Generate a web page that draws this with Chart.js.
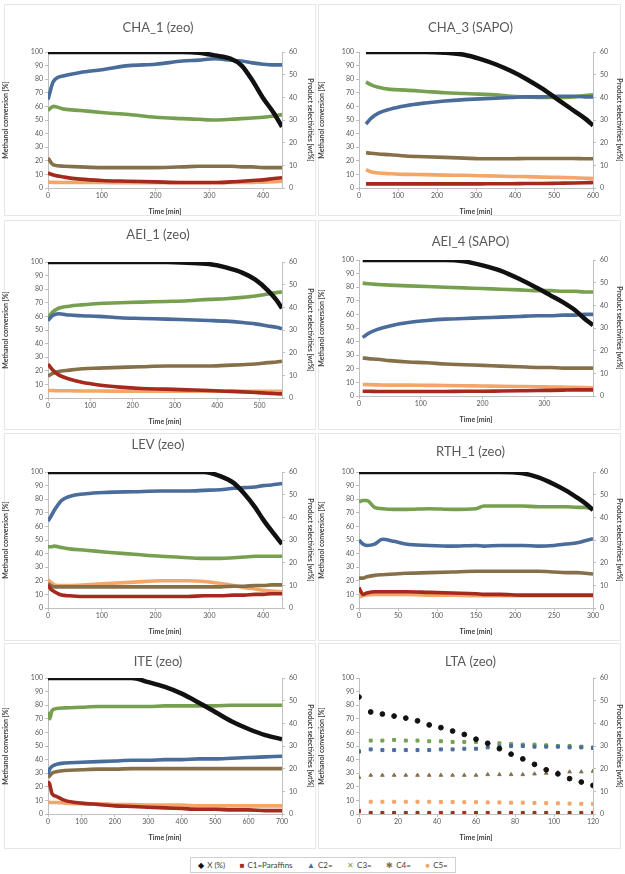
<!DOCTYPE html>
<html>
<head>
<meta charset="utf-8">
<script src="https://cdn.jsdelivr.net/npm/chart.js@4.4.1/dist/chart.umd.min.js"></script>
<style>
  body { margin: 0; background: #fff; width: 625px; height: 874px; position: relative; overflow: hidden; font-family: Lato, "Open Sans", sans-serif; }
  canvas { position: absolute; }
  .frame { position: absolute; border: 1px solid #e6e6e6; box-sizing: border-box; }
  #legend { position: absolute; left: 190px; top: 857px; width: 266px; height: 16px; border: 1px solid #d0d0d0; box-sizing: border-box;
            display: flex; justify-content: space-around; align-items: center; font-size: 8px; color: #404040; }
  #legend span b { display: inline-block; margin-right: 3px; font-weight: normal; }
</style>
</head>
<body>
<div id="legend"></div>
<script>
// series names and colours (legend order)
const seriesNames = ["X (%)", "C1=Paraffins", "C2=", "C3=", "C4=", "C5="];
const seriesColors = ["#111111", "#a52a1e", "#4a6c9b", "#76a050", "#86704a", "#f2a66a"];
const markerGlyphs = ["\u25C6", "\u25A0", "\u25B2", "\u2715", "\u2731", "\u25CF"];

// CHA_1 (zeo)
const cha1Time = [0, 10, 30, 60, 100, 150, 200, 250, 280, 310, 340, 360, 380, 400, 420, 435];
const cha1X  = [100, 100, 100, 100, 100, 100, 100, 100, 99.5, 97.5, 95, 90, 79, 66, 55, 45];
const cha1C1 = [6.6, 5.7, 4.8, 3.9, 3.3, 3, 2.7, 2.4, 2.4, 2.4, 2.7, 3, 3.3, 3.6, 4.2, 4.5];
const cha1C2 = [39, 47, 49.5, 51, 52.2, 54, 54.6, 56, 56.4, 57, 56.4, 56, 55.2, 54.6, 54.3, 54.3];
const cha1C3 = [34.2, 36, 34.8, 34.2, 33.3, 32.4, 31.2, 30.6, 30.3, 30, 30.3, 30.6, 30.9, 31.2, 31.8, 32.4];
const cha1C4 = [13.2, 10.2, 9.6, 9.3, 9, 9, 9, 9.3, 9.6, 9.6, 9.6, 9.3, 9.3, 9, 9, 9];
const cha1C5 = [2.6, 2.5, 2.4, 2.4, 2.4, 2.3, 2.3, 2.3, 2.3, 2.3, 2.4, 2.4, 2.5, 2.6, 2.8, 3];

// CHA_3 (SAPO)
const cha3Time = [18, 30, 50, 80, 120, 170, 220, 270, 310, 350, 390, 430, 470, 510, 550, 580, 600];
const cha3X  = [100, 100, 100, 100, 100, 100, 99.5, 98, 95, 91, 86, 80, 73, 65, 57, 51, 46];
const cha3C1 = [1.8, 1.8, 1.8, 1.8, 1.8, 1.8, 1.8, 1.8, 1.8, 1.9, 1.9, 2, 2, 2.1, 2.2, 2.3, 2.4];
const cha3C2 = [28.2, 30.6, 33, 34.8, 36.3, 37.5, 38.4, 39, 39.3, 39.6, 39.9, 40.2, 40.2, 40.5, 40.5, 40.2, 40.2];
const cha3C3 = [46.8, 45.6, 44.4, 43.5, 43.2, 42.6, 42, 41.7, 41.4, 41.1, 40.5, 40.2, 39.9, 39.9, 40.2, 40.8, 41.1];
const cha3C4 = [15.6, 15.3, 15, 14.7, 14.1, 13.8, 13.5, 13.2, 12.9, 12.9, 12.9, 13, 13, 13, 13, 12.9, 12.9];
const cha3C5 = [8.1, 7.2, 6.6, 6.3, 6, 5.9, 5.7, 5.6, 5.4, 5.3, 5.1, 5, 4.8, 4.7, 4.5, 4.3, 4.2];

// AEI_1 (zeo)
const aei1Time = [0, 10, 25, 50, 80, 120, 170, 220, 280, 330, 380, 420, 460, 490, 520, 540, 553];
const aei1X  = [100, 100, 100, 100, 100, 100, 100, 100, 100, 99.5, 98.5, 96, 92, 87, 79, 72, 66];
const aei1C1 = [15, 12.6, 10.2, 8.4, 6.9, 5.7, 4.8, 4.2, 3.9, 3.6, 3.3, 3, 2.7, 2.4, 2.1, 1.9, 1.8];
const aei1C2 = [34.2, 36.3, 37.2, 36.6, 36.3, 36, 35.4, 35.1, 34.8, 34.5, 34.2, 33.9, 33.3, 32.7, 31.8, 31.2, 30.6];
const aei1C3 = [35.4, 37.8, 39.6, 40.5, 41.1, 41.7, 42, 42.3, 42.6, 42.9, 43.5, 43.8, 44.4, 45, 45.9, 46.5, 46.8];
const aei1C4 = [9.6, 10.8, 11.7, 12.3, 12.9, 13.2, 13.5, 13.8, 14.1, 14.1, 14.1, 14.4, 14.7, 15, 15.6, 15.9, 16.2];
const aei1C5 = [3.3, 3.3, 3.2, 3.2, 3.1, 3.1, 3, 3, 3, 3, 3, 3, 3, 3, 3, 3, 3];

// AEI_4 (SAPO)
const aei4Time = [6, 15, 30, 50, 80, 110, 140, 170, 200, 230, 260, 290, 310, 330, 350, 365, 379];
const aei4X  = [100, 100, 100, 100, 100, 100, 100, 99, 96, 92, 86, 79, 74, 69, 63, 57, 52];
const aei4C1 = [2.1, 2.1, 2, 2, 2, 2, 2, 2.1, 2.1, 2.2, 2.3, 2.4, 2.5, 2.6, 2.7, 2.7, 2.7];
const aei4C2 = [25.8, 27.6, 29.4, 30.9, 32.4, 33.3, 33.9, 34.2, 34.5, 34.8, 35.1, 35.4, 35.4, 35.7, 35.7, 36, 36];
const aei4C3 = [49.8, 49.5, 49.2, 48.9, 48.6, 48.3, 48, 47.7, 47.4, 47.1, 46.8, 46.5, 46.5, 46.2, 46.2, 45.9, 45.9];
const aei4C4 = [16.8, 16.5, 16.2, 15.6, 15, 14.7, 14.1, 13.8, 13.5, 13.2, 12.9, 12.6, 12.6, 12.3, 12.3, 12.3, 12.3];
const aei4C5 = [5.1, 5, 4.9, 4.8, 4.8, 4.7, 4.6, 4.5, 4.4, 4.3, 4.2, 4.1, 4, 3.9, 3.8, 3.7, 3.6];

// LEV (zeo)
const levTime = [0, 5, 12, 25, 40, 70, 110, 160, 210, 260, 290, 320, 345, 365, 385, 400, 415, 435];
const levX  = [100, 100, 100, 100, 100, 100, 100, 100, 100, 100, 100, 97, 92, 84, 74, 65, 57, 47];
const levC1 = [10.2, 8.4, 7.2, 5.7, 5.4, 5.1, 5.1, 5.1, 5.1, 5.1, 5.4, 5.4, 5.7, 5.7, 6, 6, 6.3, 6.3];
const levC2 = [38.4, 40.2, 43.2, 47.4, 49.2, 50.4, 51, 51.3, 51.6, 51.6, 51.9, 52.2, 52.8, 53.1, 53.4, 54, 54.3, 54.9];
const levC3 = [27, 27, 27.3, 26.7, 26.1, 25.5, 24.6, 23.7, 22.8, 22.2, 21.9, 21.9, 22.2, 22.5, 22.8, 22.8, 22.8, 22.8];
const levC4 = [10.8, 9.9, 9.3, 9.3, 9.3, 9.3, 9.3, 9.3, 9.3, 9.3, 9.3, 9.3, 9.6, 9.6, 9.9, 9.9, 10.2, 10.2];
const levC5 = [12.6, 11.4, 10.2, 9.9, 9.9, 10.2, 10.8, 11.4, 12, 12, 11.7, 10.8, 9.9, 9, 8.4, 7.8, 7.5, 7.2];

// RTH_1 (zeo)
const rthTime = [0, 5, 10, 20, 30, 45, 60, 90, 120, 150, 160, 180, 210, 230, 250, 265, 280, 290, 300];
const rthX  = [100, 100, 100, 100, 100, 100, 100, 100, 100, 100, 100, 100, 99, 96, 91, 86.5, 81, 77, 72];
const rthC1 = [9, 6, 6.6, 7.2, 7.2, 7.2, 7.2, 6.9, 6.6, 6.3, 6, 6, 5.7, 5.7, 5.7, 5.7, 5.7, 5.7, 5.7];
const rthC2 = [30, 28.2, 27.6, 28.2, 30.3, 29.4, 28.2, 27.6, 27.3, 27.6, 27.3, 27.6, 27.6, 27.3, 27.6, 28.2, 28.8, 29.7, 30.6];
const rthC3 = [46.8, 47.4, 47.4, 44.4, 43.8, 43.5, 43.5, 43.8, 43.5, 43.8, 45, 45, 45, 44.7, 44.7, 44.7, 44.4, 44.4, 43.8];
const rthC4 = [13.2, 13.2, 13.8, 14.4, 14.7, 15, 15.3, 15.6, 15.9, 16.2, 16.2, 16.2, 16.2, 16.2, 15.9, 15.6, 15.6, 15.3, 15];
const rthC5 = [4.8, 5.4, 5.7, 6, 6, 6, 6, 5.7, 5.7, 5.4, 5.4, 5.4, 5.4, 5.4, 5.4, 5.4, 5.4, 5.4, 5.4];

// ITE (zeo)
const iteTime = [0, 5, 12, 25, 50, 100, 150, 200, 250, 300, 350, 400, 450, 500, 550, 600, 650, 700];
const iteX  = [100, 100, 100, 100, 100, 100, 100, 100, 100, 97, 93.5, 88.5, 82, 75, 68, 62.5, 58, 55];
const iteC1 = [14.4, 13.2, 9, 7.8, 6, 4.8, 4.2, 3.6, 3.3, 3, 2.7, 2.4, 2.1, 2.1, 1.8, 1.8, 1.5, 1.5];
const iteC2 = [17.4, 19.8, 21, 21.9, 22.5, 22.8, 23.1, 23.4, 23.7, 23.7, 24, 24, 24.3, 24.3, 24.6, 24.9, 25.2, 25.5];
const iteC3 = [45, 42, 45.6, 46.5, 46.8, 47.1, 47.4, 47.4, 47.4, 47.4, 47.7, 47.7, 47.7, 47.7, 48, 48, 48, 48];
const iteC4 = [16.2, 16.8, 18, 18.6, 19.2, 19.5, 19.8, 19.8, 20, 20, 20, 20, 20, 20, 20, 20, 20, 20];
const iteC5 = [5.4, 5.1, 5.1, 5.1, 4.8, 4.5, 4.5, 4.2, 4.2, 3.9, 3.9, 3.9, 3.6, 3.6, 3.6, 3.6, 3.6, 3.6];

// LTA (zeo)
const ltaTime = [0, 6, 12, 18, 24, 30, 36, 42, 48, 54, 60, 66, 72, 78, 84, 90, 96, 102, 108, 114, 120];
const ltaX  = [86, 75, 73.5, 72, 70.5, 68.5, 65.5, 63.5, 61, 58.5, 55, 52, 48, 44, 40.5, 36.5, 32.5, 29.5, 26, 23.5, 21];
const ltaC1 = [1.2, 0.5, 0.5, 0.5, 0.5, 0.5, 0.5, 0.5, 0.5, 0.5, 0.5, 0.5, 0.5, 0.5, 0.5, 0.5, 0.5, 0.5, 0.5, 0.5, 0.5];
const ltaC2 = [27.6, 28.5, 28.2, 28.2, 28.2, 28.2, 28.2, 28.5, 28.5, 28.8, 28.8, 29.4, 29.7, 30, 30, 29.7, 29.7, 29.7, 29.4, 29.4, 29.1];
const ltaC3 = [27.6, 32.4, 32.4, 32.7, 32.4, 32.4, 32.1, 32.1, 31.8, 31.8, 31.8, 31.2, 31.2, 30.9, 30.6, 30.6, 30.3, 30, 30, 29.7, 29.4];
const ltaC4 = [16.2, 17.1, 17.1, 17.1, 17.1, 17.1, 17.1, 17.1, 17.1, 17.1, 17.1, 17.4, 17.4, 17.4, 17.4, 17.7, 18, 18.3, 18.6, 18.6, 18.9];
const ltaC5 = [1.5, 5.4, 5.4, 5.4, 5.4, 5.4, 5.4, 5.3, 5.3, 5.2, 5.2, 5.1, 5.1, 5, 5, 4.9, 4.8, 4.7, 4.6, 4.5, 4.5];

// panels: data + axis range
const panels = [
  { title: "CHA_1 (zeo)",  time: cha1Time, vals: [cha1X, cha1C1, cha1C2, cha1C3, cha1C4, cha1C5], xMax: 435, xStep: 100 },
  { title: "CHA_3 (SAPO)", time: cha3Time, vals: [cha3X, cha3C1, cha3C2, cha3C3, cha3C4, cha3C5], xMax: 600, xStep: 100 },
  { title: "AEI_1 (zeo)",  time: aei1Time, vals: [aei1X, aei1C1, aei1C2, aei1C3, aei1C4, aei1C5], xMax: 553, xStep: 100 },
  { title: "AEI_4 (SAPO)", time: aei4Time, vals: [aei4X, aei4C1, aei4C2, aei4C3, aei4C4, aei4C5], xMax: 379, xStep: 100 },
  { title: "LEV (zeo)",    time: levTime,  vals: [levX, levC1, levC2, levC3, levC4, levC5], xMax: 435, xStep: 100 },
  { title: "RTH_1 (zeo)",  time: rthTime,  vals: [rthX, rthC1, rthC2, rthC3, rthC4, rthC5], xMax: 300, xStep: 50 },
  { title: "ITE (zeo)",    time: iteTime,  vals: [iteX, iteC1, iteC2, iteC3, iteC4, iteC5], xMax: 700, xStep: 100 },
  { title: "LTA (zeo)",    time: ltaTime,  vals: [ltaX, ltaC1, ltaC2, ltaC3, ltaC4, ltaC5], xMax: 120, xStep: 20, scatter: true },
];

// layout: [canvas left, plot top, title gap above plot]
const layout = [
  [0, 52, 24], [316, 52, 24],
  [0, 262, 27], [316, 260, 18],
  [0, 472, 27], [316, 472, 20],
  [0, 678, 16], [316, 678, 16],
];
const frames = [
  [4, 4, 312, 212], [318, 4, 303, 212],
  [4, 220, 312, 210], [318, 220, 303, 210],
  [4, 433, 312, 208], [318, 433, 303, 208],
  [4, 643, 312, 206], [318, 643, 303, 206],
];

const TICK = "#595959", AXIS = "#bfbfbf";
const tiny = { size: 7, family: "Lato" };

frames.forEach(([x, y, w, h]) => {
  const d = document.createElement("div");
  d.className = "frame";
  Object.assign(d.style, { left: x + "px", top: y + "px", width: w + "px", height: h + "px" });
  document.body.appendChild(d);
});

panels.forEach((p, idx) => {
  const [cx, plotTop, gap] = layout[idx];
  const leftCol = cx === 0;
  const width = leftCol ? 316 : 309;
  const leftW = leftCol ? 48 : 43;
  const rightW = leftCol ? 34 : 32;
  const head = 48;
  const plotH = 136;
  const canvas = document.createElement("canvas");
  canvas.width = width;
  canvas.height = head + plotH + 28;
  canvas.style.left = cx + "px";
  canvas.style.top = (plotTop - head) + "px";
  document.body.appendChild(canvas);

  const titlePadTop = head - gap - 8;
  const datasets = p.vals.map((v, k) => ({
    label: seriesNames[k],
    data: p.time.map((t, i) => ({ x: t, y: v[i] })),
    yAxisID: k === 0 ? "y" : "y1",
    borderColor: seriesColors[k],
    backgroundColor: seriesColors[k],
    borderWidth: k === 0 ? 4.5 : 3.6,
    showLine: !p.scatter,
    pointRadius: p.scatter ? (k === 0 ? 2.4 : 2.1) : 0,
    pointBorderWidth: 1,
    pointStyle: p.scatter ? ["circle", "rect", "rect", "rect", "triangle", "rect"][k] : "circle",
    cubicInterpolationMode: "monotone",
  }));

  new Chart(canvas.getContext("2d"), {
    type: "line",
    data: { datasets },
    options: {
      responsive: false,
      animation: false,
      layout: { padding: 0 },
      plugins: {
        legend: { display: false },
        tooltip: { enabled: false },
        title: {
          display: true, text: p.title, color: "#595959",
          font: { size: 13, family: "Lato", weight: "normal" },
          padding: { top: titlePadTop, bottom: head - titlePadTop - 15.6 },
        },
      },
      scales: {
        x: {
          type: "linear", min: 0, max: p.xMax,
          ticks: { stepSize: p.xStep, includeBounds: false, color: TICK, font: tiny, maxRotation: 0, padding: 1 },
          grid: { drawOnChartArea: false, color: AXIS, tickLength: 3 },
          border: { color: AXIS },
          title: { display: true, text: "Time [min]", color: "#404040", font: { size: 7, family: "Lato", weight: "bold" }, padding: { top: 2, bottom: 0 } },
          afterFit: (s) => { s.height = 28; },
        },
        y: {
          min: 0, max: 100,
          ticks: { stepSize: 10, color: TICK, font: tiny, padding: 2 },
          grid: { drawOnChartArea: false, color: AXIS, tickLength: 3 },
          border: { color: AXIS },
          title: { display: true, text: "Methanol conversion [%]", color: "#404040", font: { size: 7, family: "Lato", weight: "bold" }, padding: 2 },
          afterFit: (s) => { s.width = leftW; },
        },
        y1: {
          position: "right", min: 0, max: 60,
          ticks: { stepSize: 10, color: TICK, font: tiny, padding: 4 },
          grid: { drawOnChartArea: false, color: AXIS, tickLength: 3 },
          border: { color: AXIS },
          title: { display: true, text: "Product selectivities [wt%]", color: "#404040", font: { size: 7, family: "Lato", weight: "bold" }, padding: 2 },
          afterFit: (s) => { s.width = rightW; },
        },
      },
    },
  });
});

// shared legend under the panels
const legend = document.getElementById("legend");
seriesNames.forEach((name, k) => {
  const item = document.createElement("span");
  item.innerHTML = `<b style="color:${seriesColors[k]}">${markerGlyphs[k]}</b>${name}`;
  legend.appendChild(item);
});
</script>
</body>
</html>
